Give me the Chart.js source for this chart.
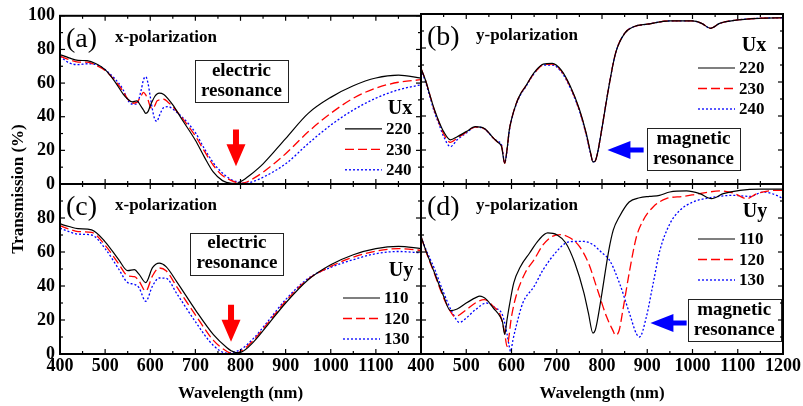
<!DOCTYPE html>
<html>
<head>
<meta charset="utf-8">
<script src="https://cdn.jsdelivr.net/npm/chart.js@4.4.1/dist/chart.umd.min.js"></script>
<style>
body { margin: 0; background: #fff; }
#wrap { position: relative; width: 803px; height: 406px; }
canvas { position: absolute; left: 0; top: 0; }
</style>
</head>
<body>
<div id="wrap">
  <canvas id="pa" width="803" height="406"></canvas>
  <canvas id="pb" width="803" height="406"></canvas>
  <canvas id="pc" width="803" height="406"></canvas>
  <canvas id="pd" width="803" height="406"></canvas>
</div>
<script>
var FONT = '"Liberation Serif", "Times New Roman", "DejaVu Serif", serif';

// (a) x-polarization, varying Ux
var aWl   = [400,420,440,460,480,500,520,540,550,560,570,580,585,590,595,600,605,610,615,620,630,640,650,670,700,720,740,760,780,790,800,810,820,850,900,950,1000,1050,1100,1150,1200];
var aU220 = [77,75,73.5,73.3,71.5,68,61.5,53.5,50.5,48.8,49.4,46,44,42,43,46.5,49.5,52,53.5,54,53.2,50.5,47,38.5,26,16,7,2,0.4,0.3,1.4,3,5,12,27,42,51.5,58.4,63,64.7,63];
var aU230 = [76,74,72.5,72.5,70.5,67.5,62,55,50.5,48,48.5,52.5,54.5,53,50,46,44.7,46.5,49.4,50,50.4,48.5,46,39.5,28.5,19.5,11,5,2,1,0.4,0.8,2,7,18,31,42,51,57,60.5,62];
var aU240 = [76,72,71,71.5,71,68,63,56,50,47.5,47.5,56,62,63.8,60,52,44,38.5,37.3,40.5,45.5,46,44.5,40,30.5,21,12.5,6.5,2.5,1.5,1,0.5,0.8,4,12,24,35,44,51,56,59];

// (b) y-polarization, varying Ux
var bWl   = [400,410,420,430,440,450,465,480,500,520,540,560,570,578,585,590,595,600,610,620,630,650,670,690,710,730,750,765,775,780,785,790,800,815,830,850,870,900,950,1000,1020,1040,1060,1100,1150,1200];
var bU220 = [68,61,52,43.5,36.5,30.8,26,27.8,30.8,33.7,32.7,27,24.5,22,12.2,20,31.5,38,47,53,57,65.5,70.5,71,67,57.5,44,30,18,13,13.5,18,33,57,77,88.6,92.5,94,95.9,95.9,94.5,91.6,94.5,96.5,97.5,97.8];
var bU230 = [68,61,52,43,36,29.5,24.5,27,30.5,33.5,32.5,27,24.5,22.5,12.2,20,31.5,38,47,53,57,65,70,70.5,66.5,57,43.5,29.5,18,13,13.5,18,33,57,77,88.6,92.5,94,95.9,95.9,94.5,91.6,94.5,96.5,97.5,97.8];
var bU240 = [67.5,60,51,42,35,28,22,26,30,33.5,32.5,27,25,23,12.5,19.5,31,37.5,46.5,52.5,56.5,65,70,70,66,56.5,43,29,17.5,13,13.5,18,33,57,77,88.6,92.5,94,95.9,95.9,94.5,91.6,94.5,96.5,97.5,97.8];

// (c) x-polarization, varying Uy
var cWl   = [400,420,440,470,500,530,550,565,575,590,605,620,635,660,700,740,770,780,790,800,830,860,900,950,1000,1050,1100,1150,1200];
var cU110 = [76.5,75,73.7,73,66,55.5,49,49.6,47,42,50.8,53.5,51.4,42,26,11.4,3.7,1.8,0.8,1,7.4,17,30,43.7,52.5,58.4,62,63.3,62];
var cU120 = [75.5,73.5,72,71.5,64,53,46,45.5,43,37,46,50.6,49,39,23,8,1.5,0.5,0.6,1.5,8.4,18,31,44,51.5,57,60.5,62,61];
var cU130 = [74,72,70.5,70,62,50,42,41,39,31,40,44.7,44.5,35,19,5,0.5,0.8,1.5,2.5,9.5,19,32,44.5,51,55.5,59,60.3,59.5];

// (d) y-polarization, varying Uy
var dWl110 = [400,410,430,450,465,480,500,520,530,545,560,575,580,585,590,595,605,620,640,660,680,700,720,740,760,770,780,785,790,800,815,825,838,860,883,905,927,950,987,1016,1042,1068,1105,1150,1200];
var dU110  = [69.2,61.4,47.6,34,25.5,26.5,30,33,34,32,27,22,19,11.5,20,28,41.8,51.5,59.4,67,71.2,70.2,65.3,53.5,36,24,12.3,14,20,36,61,73,80.6,89.4,91.9,92.7,93.3,95.3,95.9,94.3,91.4,94.3,96.3,97,97];
var dWl120 = [400,410,430,450,465,475,500,520,540,560,575,585,590,600,610,630,650,670,690,710,730,750,770,790,810,824,830,838,846,861,876,891,913,942,979,1016,1060,1090,1120,1142,1186,1200];
var dU120  = [69.2,61,47,33,25,22,26,30,32,28,23,12.3,4.5,22,34,47.6,55.5,64.3,69.2,70.2,68.2,63.3,53.5,37.8,22,13.9,11,14,25.6,49,68.8,78.6,86.5,91.4,92.7,94.3,95.9,94.7,91.4,94.3,96.3,96.3];
var dWl130 = [400,410,430,450,470,485,500,520,545,565,580,590,595,598,603,610,625,650,670,700,720,740,760,780,800,817,839,861,876,883,898,913,928,950,972,1001,1038,1090,1127,1157,1186,1200];
var dU130  = [69,62,50,36,24,18.6,21.2,26,30,27,23,12,4.5,1.5,8,16,30,39.8,49.6,60.4,65.3,66.2,66.2,64.3,59.5,55,41.4,23.7,11.9,10,21.8,41.4,61,76.6,84.5,89.4,91.9,93.3,92.7,95.3,93.3,91.4];

var xTicks = [400, 500, 600, 700, 800, 900, 1000, 1100, 1200];
var yTicks = [0, 20, 40, 60, 80, 100];

var lineStyles = [
  { borderColor: '#000000', borderDash: [], borderWidth: 1.2 },
  { borderColor: '#ff0000', borderDash: [9, 4], borderWidth: 1.3 },
  { borderColor: '#0000ff', borderDash: [2, 2], borderWidth: 1.3 }
];

function pts(xs, ys) {
  return xs.map(function(x, i) { return { x: x, y: ys[i] }; });
}

function makeSets(labels, xsList, ysList) {
  return labels.map(function(lab, i) {
    var s = lineStyles[i];
    return {
      label: lab,
      data: pts(xsList[i], ysList[i]),
      borderColor: s.borderColor,
      borderDash: s.borderDash,
      borderWidth: s.borderWidth,
      pointRadius: 0,
      fill: false,
      tension: 0.4,
      cubicInterpolationMode: 'monotone'
    };
  });
}

function line(ctx, x1, y1, x2, y2) {
  ctx.beginPath(); ctx.moveTo(x1, y1); ctx.lineTo(x2, y2); ctx.stroke();
}

// frame, inward ticks, panel label, legend, note box and arrow
var deco = {
  id: 'deco',
  afterDatasetsDraw: function(chart, args, o) {
    var ctx = chart.ctx, a = chart.chartArea;
    var sx = chart.scales.x, sy = chart.scales.y;
    var v, p;
    ctx.save();

    // note box
    var bx = sx.getPixelForValue(o.box.x), by = sy.getPixelForValue(o.box.y);
    var bw = 93, bh = 42;
    ctx.fillStyle = '#fff';
    ctx.fillRect(bx - bw / 2, by - bh / 2, bw, bh);
    ctx.strokeStyle = '#222'; ctx.lineWidth = 1;
    ctx.strokeRect(Math.round(bx - bw / 2) + 0.5, Math.round(by - bh / 2) + 0.5, bw, bh);
    ctx.fillStyle = '#000';
    ctx.font = 'bold 19px ' + FONT;
    ctx.textAlign = 'center'; ctx.textBaseline = 'middle';
    ctx.fillText(o.box.lines[0], bx, by - 10);
    ctx.fillText(o.box.lines[1], bx, by + 10);

    // arrow
    var ar = o.arrow;
    ctx.fillStyle = ar.color;
    ctx.beginPath();
    if (ar.dir === 'down') {
      var ax = sx.getPixelForValue(ar.x), y0 = sy.getPixelForValue(ar.from), y1 = sy.getPixelForValue(ar.to);
      var hy = y1 - 22;
      ctx.moveTo(ax - 3, y0); ctx.lineTo(ax + 3, y0); ctx.lineTo(ax + 3, hy);
      ctx.lineTo(ax + 9.5, hy); ctx.lineTo(ax, y1); ctx.lineTo(ax - 9.5, hy);
      ctx.lineTo(ax - 3, hy);
    } else {
      var ay = sy.getPixelForValue(ar.y), x0 = sx.getPixelForValue(ar.from), x1 = sx.getPixelForValue(ar.to);
      var hx = x1 + 23;
      ctx.moveTo(x0, ay - 2.5); ctx.lineTo(x0, ay + 2.5); ctx.lineTo(hx, ay + 2.5);
      ctx.lineTo(hx, ay + 9); ctx.lineTo(x1, ay); ctx.lineTo(hx, ay - 9);
      ctx.lineTo(hx, ay - 2.5);
    }
    ctx.closePath(); ctx.fill();

    // frame
    ctx.strokeStyle = '#000'; ctx.lineWidth = 2;
    ctx.strokeRect(a.left, a.top, a.right - a.left, a.bottom - a.top);
    ctx.lineWidth = 1.2;
    for (v = 400; v <= 1200; v += 50) {
      var len = v % 100 === 0 ? 5 : 3;
      p = sx.getPixelForValue(v);
      line(ctx, p, a.bottom, p, a.bottom - len);
      line(ctx, p, a.top, p, a.top + len);
    }
    for (v = 0; v <= 100; v += 10) {
      var ylen = v % 20 === 0 ? 5 : 3;
      p = sy.getPixelForValue(v);
      line(ctx, a.left, p, a.left + ylen, p);
      line(ctx, a.right, p, a.right - ylen, p);
    }

    // panel tag and polarization
    ctx.fillStyle = '#000';
    ctx.textAlign = 'left'; ctx.textBaseline = 'middle';
    ctx.font = '28px ' + FONT;
    ctx.fillText(o.tag, a.left + 6, a.top + 24);
    ctx.font = 'bold 17px ' + FONT;
    ctx.fillText(o.pol, a.left + 55, a.top + 22);

    // legend
    var lg = o.legend;
    ctx.font = 'bold 20px ' + FONT;
    ctx.textAlign = 'center';
    ctx.fillText(lg.title, a.left + lg.tx, a.top + lg.ty);
    ctx.textAlign = 'left';
    ctx.font = 'bold 17px ' + FONT;
    chart.data.datasets.forEach(function(ds, i) {
      var ly = a.top + lg.y + i * 20.5;
      ctx.strokeStyle = ds.borderColor;
      ctx.lineWidth = ds.borderWidth;
      ctx.setLineDash(ds.borderDash);
      line(ctx, a.left + lg.x, ly, a.left + lg.x + 37, ly);
      ctx.setLineDash([]);
      ctx.fillText(ds.label, a.left + lg.x + 41, ly + 1);
    });

    // shared y title
    if (o.yTitle) {
      ctx.font = 'bold 17px ' + FONT;
      ctx.textAlign = 'center';
      ctx.translate(19, 189);
      ctx.rotate(-Math.PI / 2);
      ctx.fillText(o.yTitle, 0, 0);
    }
    ctx.restore();
  }
};

function makeChart(id, sets, p) {
  return new Chart(document.getElementById(id), {
    type: 'line',
    data: { datasets: sets },
    plugins: [deco],
    options: {
      responsive: false,
      animation: false,
      devicePixelRatio: 1,
      layout: { padding: { left: p.padL, right: p.padR, top: p.padT, bottom: p.padB } },
      plugins: {
        legend: { display: false },
        tooltip: { enabled: false },
        deco: p.deco
      },
      scales: {
        x: {
          type: 'linear', min: 400, max: 1200,
          afterFit: function(s) { s.height = p.xh; },
          afterBuildTicks: function(s) { s.ticks = xTicks.map(function(v) { return { value: v }; }); },
          grid: { display: false, drawTicks: false }, border: { display: false },
          ticks: {
            display: p.xLabels, padding: 2, color: '#000', maxRotation: 0, autoSkip: false,
            font: { family: FONT, size: 18, weight: 'bold' },
            callback: function(v) { return (p.hideLast && v === 1200) ? '' : String(v); }
          },
          title: {
            display: p.xLabels, text: 'Wavelength (nm)', color: '#000',
            font: { family: FONT, size: 17, weight: 'bold' }, padding: { top: 0, bottom: 2 }
          }
        },
        y: {
          min: 0, max: 100,
          afterFit: function(s) { s.width = p.yw; },
          afterBuildTicks: function(s) { s.ticks = yTicks.map(function(v) { return { value: v }; }); },
          grid: { display: false, drawTicks: false }, border: { display: false },
          ticks: {
            display: p.yLabels, padding: 5, color: '#000',
            font: { family: FONT, size: 18, weight: 'bold' },
            callback: function(v) { return (p.hideTop && v === 100) ? '' : String(v); }
          }
        }
      }
    }
  });
}

makeChart('pa', makeSets(['220', '230', '240'], [aWl, aWl, aWl], [aU220, aU230, aU240]), {
  padL: 0, padR: 382, padT: 14, padB: 222, yw: 60, xh: 0, xLabels: false, yLabels: true,
  deco: {
    tag: '(a)', pol: 'x-polarization', yTitle: 'Transmission (%)',
    legend: { title: 'Ux', tx: 340, ty: 93, x: 285, y: 113 },
    box: { x: 802, y: 61.2, lines: ['electric', 'resonance'] },
    arrow: { dir: 'down', color: '#ff0000', x: 790, from: 32.4, to: 10.6 }
  }
});

makeChart('pb', makeSets(['220', '230', '240'], [bWl, bWl, bWl], [bU220, bU230, bU240]), {
  padL: 421, padR: 20, padT: 14, padB: 222, yw: 0, xh: 0, xLabels: false, yLabels: false,
  deco: {
    tag: '(b)', pol: 'y-polarization',
    legend: { title: 'Ux', tx: 333, ty: 32, x: 277, y: 54 },
    box: { x: 1002, y: 20.3, lines: ['magnetic', 'resonance'] },
    arrow: { dir: 'left', color: '#0000ff', y: 20, from: 892, to: 812 }
  }
});

makeChart('pc', makeSets(['110', '120', '130'], [cWl, cWl, cWl], [cU110, cU120, cU130]), {
  padL: 0, padR: 382, padT: 184, padB: 0, yw: 60, xh: 52, xLabels: true, yLabels: true,
  hideLast: true, hideTop: true,
  deco: {
    tag: '(c)', pol: 'x-polarization',
    legend: { title: 'Uy', tx: 341, ty: 87, x: 283, y: 114 },
    box: { x: 792, y: 59.1, lines: ['electric', 'resonance'] },
    arrow: { dir: 'down', color: '#ff0000', x: 779, from: 29, to: 7.2 }
  }
});

makeChart('pd', makeSets(['110', '120', '130'], [dWl110, dWl120, dWl130], [dU110, dU120, dU130]), {
  padL: 421, padR: 20, padT: 184, padB: 0, yw: 0, xh: 52, xLabels: true, yLabels: false,
  hideTop: true,
  deco: {
    tag: '(d)', pol: 'y-polarization',
    legend: { title: 'Uy', tx: 334, ty: 28, x: 277, y: 55 },
    box: { x: 1092, y: 20.1, lines: ['magnetic', 'resonance'] },
    arrow: { dir: 'left', color: '#0000ff', y: 18.2, from: 987, to: 907 }
  }
});
</script>
</body>
</html>
